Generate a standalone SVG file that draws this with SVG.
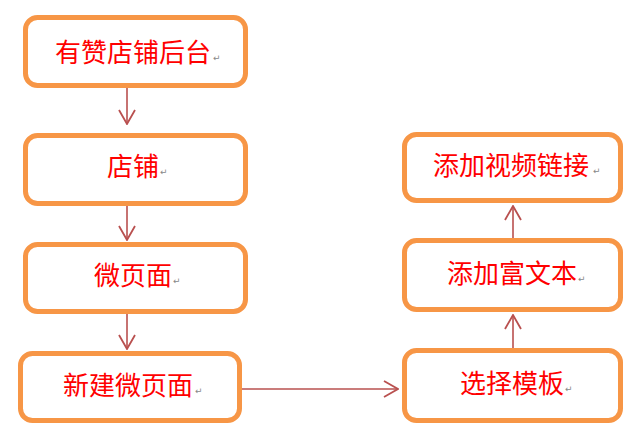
<svg xmlns="http://www.w3.org/2000/svg" width="640" height="433" viewBox="0 0 640 433">
<defs>
<style>
.box{fill:#fff;stroke:#F79646;stroke-width:5}
.t{font-family:"Noto Sans CJK SC","Noto Sans CJK JP",sans-serif;font-size:26px;fill:#FF0000}
.pm{font-family:"DejaVu Sans",sans-serif;font-size:9px;fill:#888}
.c{stroke:#B9504F;stroke-width:1.6;fill:none}
</style>
<marker id="ah" viewBox="0 0 16 18" refX="15" refY="9" markerWidth="16" markerHeight="18" markerUnits="userSpaceOnUse" orient="auto">
<path d="M1,1 L15,9 L1,17" fill="none" stroke="#B9504F" stroke-width="1.8"/>
</marker>
</defs>
<rect width="640" height="433" fill="#fff"/>
<g id="connectors">
<line class="c" x1="127" y1="88" x2="127" y2="124" marker-end="url(#ah)"/>
<line class="c" x1="127" y1="206" x2="127" y2="240" marker-end="url(#ah)"/>
<line class="c" x1="127" y1="314" x2="127" y2="349" marker-end="url(#ah)"/>
<line class="c" x1="242" y1="389" x2="398" y2="389" marker-end="url(#ah)"/>
<line class="c" x1="513" y1="348" x2="513" y2="315" marker-end="url(#ah)"/>
<line class="c" x1="513" y1="238" x2="513" y2="206" marker-end="url(#ah)"/>
</g>
<g id="n1">
<rect class="box" x="25.5" y="17.5" width="220" height="68" rx="12"/>
<text class="t" x="55" y="62">有赞店铺后台</text><text class="pm" x="213" y="61">↵</text>
</g>
<g id="n2">
<rect class="box" x="25.5" y="135.5" width="220" height="68" rx="12"/>
<text class="t" x="107" y="176">店铺</text><text class="pm" x="160" y="175">↵</text>
</g>
<g id="n3">
<rect class="box" x="25.5" y="244.5" width="220" height="67" rx="12"/>
<text class="t" x="94" y="285">微页面</text><text class="pm" x="173" y="284">↵</text>
</g>
<g id="n4">
<rect class="box" x="20.5" y="353.5" width="219" height="67" rx="12"/>
<text class="t" x="63" y="395">新建微页面</text><text class="pm" x="195" y="394">↵</text>
</g>
<g id="n5">
<rect class="box" x="404.5" y="350.5" width="216" height="70" rx="12"/>
<text class="t" x="460" y="393">选择模板</text><text class="pm" x="565" y="392">↵</text>
</g>
<g id="n6">
<rect class="box" x="404.5" y="240.5" width="216" height="69" rx="12"/>
<text class="t" x="447" y="283">添加富文本</text><text class="pm" x="578" y="282">↵</text>
</g>
<g id="n7">
<rect class="box" x="404.5" y="134.5" width="216" height="66" rx="12"/>
<text class="t" x="433" y="175">添加视频链接</text><text class="pm" x="593" y="174">↵</text>
</g>
</svg>
